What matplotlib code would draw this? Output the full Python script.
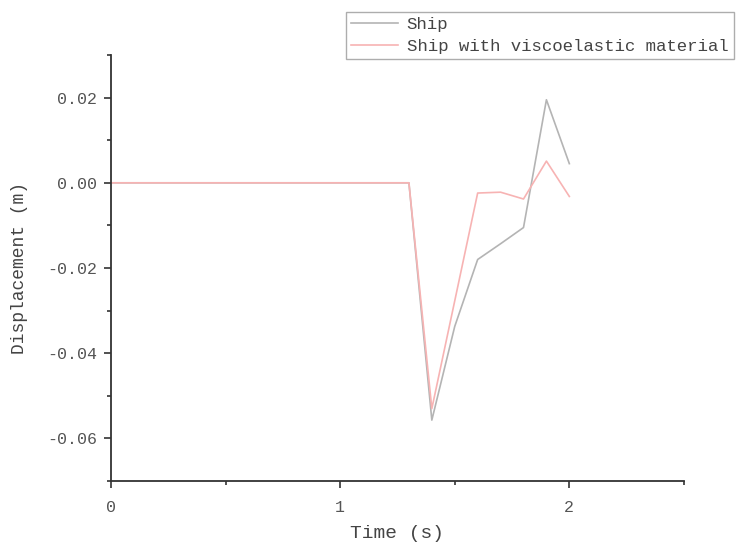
import matplotlib
matplotlib.use("Agg")
import matplotlib.pyplot as plt
from matplotlib.ticker import MultipleLocator

# time steps (s)
time = [0, 0.1, 0.2, 0.3, 0.4, 0.5, 0.6, 0.7, 0.8, 0.9, 1.0, 1.1, 1.2, 1.3,
        1.4, 1.5, 1.6, 1.7, 1.8, 1.9, 2.0]
ship = [0] * 14 + [-0.0557, -0.0337, -0.0180, -0.0143, -0.0105, 0.0195, 0.0045]
ship_visco = [0] * 14 + [-0.0530, -0.0277, -0.0024, -0.0022, -0.0038, 0.0051, -0.0032]

plt.rcParams['font.family'] = ['Liberation Mono', 'DejaVu Sans Mono']

fig = plt.figure(figsize=(7.45, 5.42), dpi=100)
ax = fig.add_axes([0.149, 0.1125, 0.769, 0.786])

l1, = ax.plot(time, ship, color='#b4b4b4', lw=1.2, label='Ship')
l2, = ax.plot(time, ship_visco, color='#f7b3b3', lw=1.2, label='Ship with viscoelastic material')

ax.set_xlim(0, 2.5)
ax.set_ylim(-0.07, 0.03)
ax.xaxis.set_major_locator(MultipleLocator(1))
ax.xaxis.set_minor_locator(MultipleLocator(0.5))
ax.yaxis.set_major_locator(MultipleLocator(0.02))
ax.yaxis.set_minor_locator(MultipleLocator(0.01))
ax.yaxis.set_major_formatter(plt.FuncFormatter(lambda v, p: "%.2f" % v if abs(v) > 1e-9 else "0.00"))

for s in ['top', 'right']:
    ax.spines[s].set_visible(False)
for s in ['left', 'bottom']:
    ax.spines[s].set_color('#333333')
    ax.spines[s].set_linewidth(1.3)
ax.tick_params(which='major', length=5, width=1.2, colors='#333333', labelcolor='#555555', labelsize=12)
ax.tick_params(axis='x', which='major', pad=9)
ax.tick_params(axis='y', which='major', pad=5)
ax.tick_params(which='minor', length=3, width=1.2, colors='#333333')

ax.set_xlabel('Time (s)', fontsize=14, color='#444444', labelpad=7)
ax.set_ylabel('Displacement (m)', fontsize=13, color='#444444', labelpad=14)

leg = fig.legend(handles=[l1, l2], loc='upper left', bbox_to_anchor=(346 / 745, 1 - 12 / 542),
                 frameon=True, fancybox=False, fontsize=12.5, borderpad=0.3,
                 labelspacing=0.35, handlelength=2.7, handletextpad=0.5, borderaxespad=0)
leg.get_frame().set_edgecolor('#999999')
leg.get_frame().set_linewidth(1.0)
for t in leg.get_texts():
    t.set_color('#444444')

fig.savefig('out.png', dpi=100)
